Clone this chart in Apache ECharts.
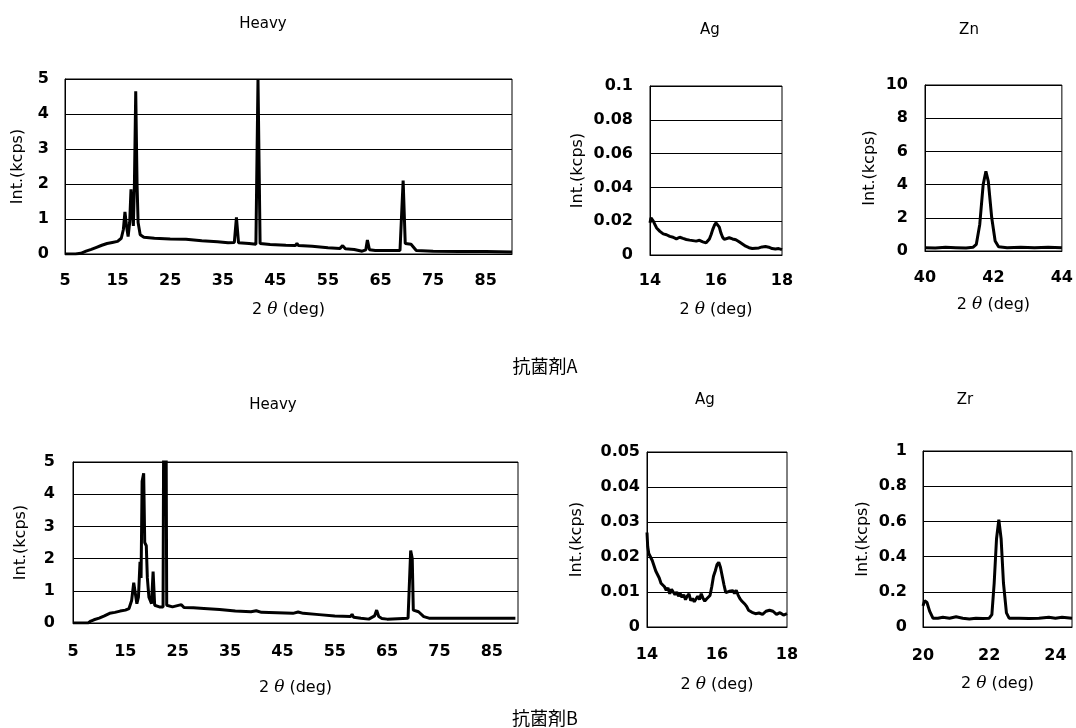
<!DOCTYPE html>
<html>
<head>
<meta charset="utf-8">
<script src="https://cdn.jsdelivr.net/npm/echarts@6/dist/echarts.min.js"></script>
<style>
html,body{margin:0;padding:0;background:#fff;}
#c{width:1076px;height:728px;}
</style>
</head>
<body>
<div id="c"></div>
<script>
// ---------- DATA ----------
const panelTitles = ['Heavy', 'Ag', 'Zn', 'Heavy', 'Ag', 'Zr'];
const groupCaptions = ['抗菌剤A', '抗菌剤B'];
const yAxisName = 'Int.(kcps)';

const heavyA = [[5,0.0],[7,0.0],[8,0.02],[9,0.08],[10,0.13],[11,0.19],[12,0.25],[13,0.3],[14,0.33],[15,0.36],[15.7,0.45],[16.1,0.7],[16.4,1.2],[16.7,0.8],[17.0,0.5],[17.3,0.9],[17.55,1.85],[17.8,1.2],[18.0,0.8],[18.2,2.0],[18.45,4.65],[18.7,2.0],[18.9,0.9],[19.3,0.55],[20,0.48],[22,0.45],[25,0.43],[28,0.42],[31,0.38],[34,0.35],[36,0.32],[37.2,0.33],[37.6,1.05],[38.0,0.32],[40,0.3],[41.3,0.28],[41.7,5.0],[42.1,0.3],[44,0.27],[47,0.25],[48.8,0.24],[49.1,0.3],[49.4,0.24],[52,0.22],[55,0.18],[57.3,0.16],[57.8,0.24],[58.3,0.15],[60,0.13],[61.5,0.08],[62.2,0.12],[62.5,0.4],[62.9,0.12],[64,0.1],[66,0.1],[68.7,0.1],[69.3,2.1],[69.7,0.3],[70.8,0.28],[71.8,0.1],[75,0.08],[80,0.07],[85,0.07],[90,0.06]];

const agA = [[14.0,0.019],[14.03,0.022],[14.06,0.021],[14.1,0.020],[14.15,0.018],[14.2,0.016],[14.25,0.015],[14.3,0.014],[14.35,0.013],[14.4,0.0125],[14.5,0.012],[14.6,0.011],[14.7,0.0105],[14.8,0.0095],[14.9,0.0105],[15.0,0.0098],[15.1,0.0092],[15.2,0.0088],[15.3,0.0085],[15.4,0.0082],[15.5,0.0087],[15.6,0.0078],[15.7,0.0072],[15.75,0.008],[15.8,0.0095],[15.85,0.012],[15.9,0.015],[15.95,0.0175],[16.0,0.019],[16.05,0.018],[16.1,0.0165],[16.15,0.013],[16.2,0.0105],[16.25,0.0092],[16.3,0.0098],[16.4,0.0102],[16.5,0.0095],[16.6,0.009],[16.7,0.0078],[16.8,0.0065],[16.9,0.0052],[17.0,0.0043],[17.1,0.0038],[17.2,0.004],[17.3,0.0042],[17.4,0.0048],[17.5,0.005],[17.6,0.0046],[17.7,0.0038],[17.8,0.0035],[17.9,0.0038],[18.0,0.0032]];

const znA = [[40.0,0.2],[40.3,0.18],[40.6,0.22],[40.9,0.2],[41.2,0.18],[41.4,0.22],[41.5,0.4],[41.6,1.6],[41.7,4.0],[41.78,4.8],[41.85,4.2],[41.95,2.0],[42.05,0.6],[42.15,0.25],[42.4,0.2],[42.8,0.22],[43.2,0.2],[43.6,0.22],[44.0,0.2]];

const heavyB = [[5,0],[7.9,0],[8.4,0.06],[9,0.1],[10,0.15],[11,0.22],[12,0.3],[13,0.33],[14,0.37],[15,0.4],[15.7,0.45],[16.2,0.7],[16.6,1.25],[16.9,1.2],[17.2,0.6],[17.5,0.8],[17.8,1.9],[18.0,1.4],[18.2,4.4],[18.5,4.65],[18.7,2.5],[19.0,2.4],[19.2,1.4],[19.5,0.8],[20.0,0.6],[20.3,1.6],[20.6,0.55],[21.5,0.5],[22.2,0.5],[22.3,5.1],[22.8,5.1],[22.9,0.55],[24,0.5],[25.7,0.57],[26.2,0.48],[28,0.47],[30,0.45],[33,0.42],[36,0.37],[39,0.35],[40,0.38],[41,0.33],[44,0.32],[47,0.3],[48,0.34],[49,0.3],[52,0.26],[55,0.22],[58,0.2],[58.3,0.27],[58.6,0.18],[60,0.15],[61.5,0.12],[62.6,0.22],[63.0,0.4],[63.4,0.2],[64,0.14],[65,0.12],[69.0,0.15],[69.5,2.25],[69.8,2.0],[70.0,0.4],[71,0.35],[72,0.2],[73,0.15],[80,0.15],[89.5,0.15]];

const agB = [[14.0,0.027],[14.02,0.023],[14.05,0.021],[14.1,0.0205],[14.15,0.019],[14.2,0.0175],[14.25,0.016],[14.3,0.015],[14.35,0.014],[14.4,0.0125],[14.45,0.013],[14.5,0.0115],[14.55,0.0105],[14.6,0.0112],[14.65,0.0095],[14.7,0.0108],[14.75,0.0112],[14.8,0.0092],[14.85,0.01],[14.9,0.0088],[14.95,0.0095],[15.0,0.0085],[15.05,0.0092],[15.1,0.0078],[15.15,0.0088],[15.2,0.0095],[15.25,0.0075],[15.3,0.0082],[15.35,0.0072],[15.4,0.008],[15.45,0.0088],[15.5,0.0078],[15.55,0.0095],[15.6,0.0082],[15.65,0.0074],[15.7,0.008],[15.75,0.0076],[15.8,0.009],[15.85,0.0115],[15.9,0.0145],[15.95,0.016],[16.0,0.0178],[16.05,0.0185],[16.1,0.017],[16.15,0.0145],[16.2,0.012],[16.25,0.0098],[16.3,0.0095],[16.35,0.0102],[16.4,0.0098],[16.45,0.0104],[16.5,0.0096],[16.55,0.0105],[16.6,0.0092],[16.65,0.0082],[16.7,0.0075],[16.8,0.0065],[16.85,0.0058],[16.9,0.0048],[17.0,0.0042],[17.1,0.0038],[17.2,0.004],[17.3,0.0036],[17.4,0.0045],[17.5,0.0048],[17.55,0.0044],[17.6,0.0045],[17.7,0.0036],[17.8,0.0041],[17.9,0.0034],[18.0,0.0038]];

const zrB = [[20.0,0.12],[20.05,0.15],[20.12,0.14],[20.2,0.09],[20.3,0.05],[20.45,0.05],[20.6,0.055],[20.8,0.05],[21.0,0.058],[21.2,0.05],[21.4,0.045],[21.6,0.05],[21.8,0.048],[22.0,0.05],[22.08,0.07],[22.15,0.25],[22.22,0.5],[22.29,0.61],[22.36,0.5],[22.43,0.25],[22.52,0.08],[22.6,0.05],[22.9,0.05],[23.2,0.048],[23.5,0.05],[23.8,0.055],[24.0,0.05],[24.2,0.055],[24.5,0.05]];

const xRanges = [[5,90,10],[14,18,2],[40,44,2],[5,90,10],[14,18,2],[20,24.5,2]];
const yRanges = [[0,5,1],[0,0.1,0.02],[0,10,2],[0,5,1],[0,0.05,0.01],[0,1,0.2]];
const seriesData = [heavyA, agA, znA, heavyB, agB, zrB];

// ---------- LAYOUT ----------
const grids = [
  {left:65, top:79, width:447, height:175},
  {left:650, top:86, width:132, height:169},
  {left:925, top:85, width:141, height:166},
  {left:73, top:462, width:445, height:161},
  {left:647, top:452, width:140, height:175},
  {left:923, top:451, width:149, height:176}
];
const titlePos = [[258,12],[705,18],[964,18],[268,393],[700,388],[960,388]];
const yNameGap = [39, 64, 47, 44, 62, 52];
const yLabelMargin = [16, 17, 17, 18, 7, 16];
const xLabelMargin = [19, 18, 19, 21, 20, 21];
const xNameGap = [47, 46, 45, 56, 49, 48];

const font = 'DejaVu Sans, Liberation Sans, sans-serif';
const xNameRich = {
  n: {fontFamily: font, fontSize: 16, color: '#000'},
  t: {fontFamily: 'DejaVu Serif, serif', fontStyle: 'italic', fontSize: 17, color: '#000'}
};

const option = {
  backgroundColor: '#fff',
  animation: false,
  title: panelTitles.map((t, i) => ({
    text: t, left: titlePos[i][0], top: titlePos[i][1], textAlign: 'center',
    textStyle: {fontFamily: font, fontSize: 15, fontWeight: 'normal', color: '#000'}
  })).concat(groupCaptions.map((t, i) => ({
    text: t, left: 540, top: i === 0 ? 352 : 704, textAlign: 'center',
    textStyle: {fontFamily: 'Noto Sans CJK JP', fontSize: 18, fontWeight: 'normal', color: '#000'}
  }))),
  grid: grids.map(g => Object.assign({show: true, borderColor: '#000', borderWidth: 1, backgroundColor: 'transparent'}, g)),
  xAxis: xRanges.map((r, i) => ({
    type: 'value', gridIndex: i, min: r[0], max: r[1], interval: r[2],
    axisLine: {show: true, onZero: false, lineStyle: {color: '#000', width: 1}},
    axisTick: {show: false},
    splitLine: {show: false},
    axisLabel: {showMaxLabel: (r[1] - r[0]) % r[2] === 0, color: '#000', fontFamily: font, fontWeight: 'bold', fontSize: 16, margin: xLabelMargin[i]},
    name: '{n|2 }{t|θ}{n| (deg)}',
    nameLocation: 'middle', nameGap: xNameGap[i],
    nameTextStyle: {rich: xNameRich}
  })),
  yAxis: yRanges.map((r, i) => ({
    type: 'value', gridIndex: i, min: r[0], max: r[1], interval: r[2],
    axisLine: {show: true, lineStyle: {color: '#000', width: 1}},
    axisTick: {show: false},
    splitLine: {show: true, lineStyle: {color: '#000', width: 1}},
    axisLabel: {color: '#000', fontFamily: font, fontWeight: 'bold', fontSize: 16, margin: yLabelMargin[i],
      formatter: v => String(+v.toFixed(4))},
    name: yAxisName, nameLocation: 'middle', nameGap: yNameGap[i], nameRotate: 90,
    nameTextStyle: {color: '#000', fontFamily: font, fontSize: 16}
  })),
  series: seriesData.map((d, i) => ({
    type: 'line', xAxisIndex: i, yAxisIndex: i, data: d,
    showSymbol: false, symbol: 'none',
    lineStyle: {color: '#000', width: 3},
    clip: true
  }))
};

const chart = echarts.init(document.getElementById('c'), null, {renderer: 'canvas'});
chart.setOption(option);
</script>
</body>
</html>
